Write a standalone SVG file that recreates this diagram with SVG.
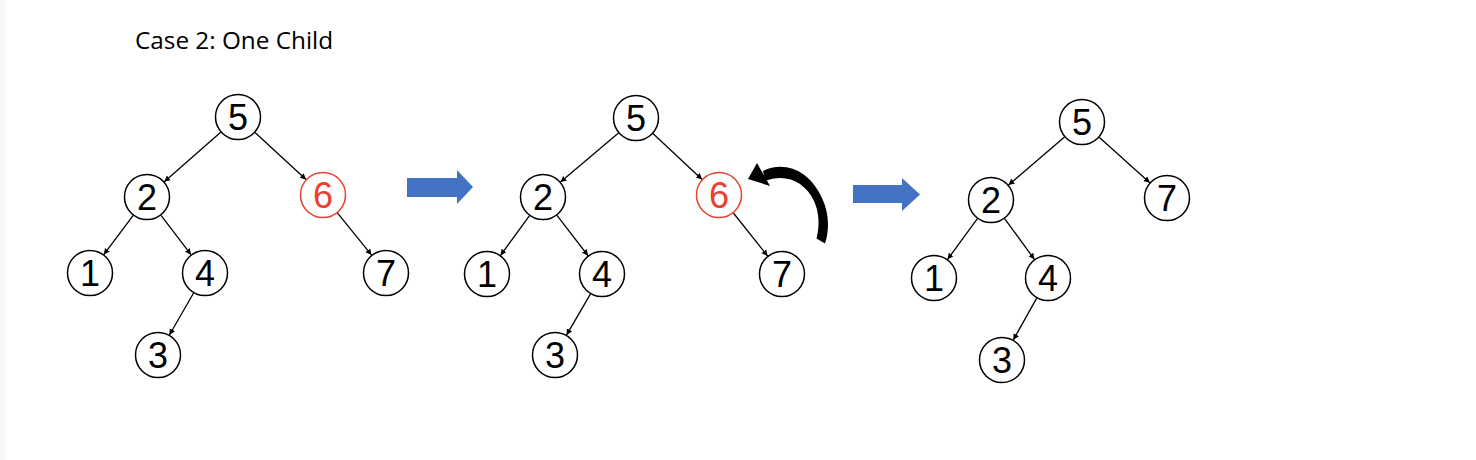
<svg xmlns="http://www.w3.org/2000/svg" width="1476" height="460" viewBox="0 0 1476 460">
<defs>
<marker id="ah" markerUnits="userSpaceOnUse" markerWidth="7" markerHeight="7" refX="6" refY="3" orient="auto">
<path d="M0,0 L6,3 L0,6 Z" fill="#000"/>
</marker>
<style>
.nd circle{fill:#fff;stroke:#000;stroke-width:1.5}
.nd text{font-family:"Liberation Sans",Arial,sans-serif;font-size:36px;fill:#000;text-anchor:middle}
.nd.red circle{stroke:#E8412F}
.nd.red text{fill:#E8412F}
.edges line{stroke:#000;stroke-width:1.3;marker-end:url(#ah)}
.big{fill:#4472C4}
</style>
</defs>
<rect x="0" y="0" width="1476" height="460" fill="#fff"/>
<rect x="0" y="0" width="6" height="460" fill="#f7f7f7"/>
<text x="135" y="49" font-family="Open Sans, Liberation Sans, sans-serif" font-size="24.3" fill="#000">Case 2: One Child</text>

<g class="edges" id="connectors">
<line x1="220.7" y1="132.2" x2="164.3" y2="181.8"/>
<line x1="255.0" y1="132.5" x2="306.0" y2="179.5"/>
<line x1="133.2" y1="215.4" x2="103.8" y2="254.6"/>
<line x1="161.0" y1="215.3" x2="191.0" y2="254.7"/>
<line x1="193.6" y1="293.0" x2="169.4" y2="335.0"/>
<line x1="337.4" y1="212.9" x2="371.6" y2="255.1"/>

<line x1="618.5" y1="132.9" x2="560.5" y2="182.1"/>
<line x1="652.9" y1="133.6" x2="702.1" y2="179.4"/>
<line x1="529.5" y1="215.6" x2="500.5" y2="255.4"/>
<line x1="557.0" y1="215.3" x2="588.0" y2="255.7"/>
<line x1="590.5" y1="293.9" x2="566.5" y2="335.1"/>
<line x1="733.4" y1="213.0" x2="767.6" y2="256.0"/>

<line x1="1064.5" y1="137.0" x2="1008.5" y2="185.0"/>
<line x1="1099.2" y1="137.3" x2="1149.8" y2="182.7"/>
<line x1="977.4" y1="218.6" x2="947.6" y2="259.4"/>
<line x1="1004.6" y1="218.6" x2="1034.4" y2="259.4"/>
<line x1="1036.7" y1="298.1" x2="1013.3" y2="340.0"/>
</g>

<g id="t1">
<g class="nd" id="t1-n5"><circle cx="238" cy="117" r="22.5"/><text x="238" y="130">5</text></g>
<g class="nd" id="t1-n2"><circle cx="147" cy="197" r="22.5"/><text x="147" y="210">2</text></g>
<g class="nd red" id="t1-n6"><circle cx="323" cy="195" r="22.5"/><text x="323" y="208">6</text></g>
<g class="nd" id="t1-n1"><circle cx="90" cy="273" r="22.5"/><text x="90" y="286">1</text></g>
<g class="nd" id="t1-n4"><circle cx="205" cy="273" r="22.5"/><text x="205" y="286">4</text></g>
<g class="nd" id="t1-n7"><circle cx="386" cy="273" r="22.5"/><text x="386" y="286">7</text></g>
<g class="nd" id="t1-n3"><circle cx="158" cy="355" r="22.5"/><text x="158" y="368">3</text></g>
</g>

<g id="t2">
<g class="nd" id="t2-n5"><circle cx="636" cy="118" r="22.5"/><text x="636" y="131">5</text></g>
<g class="nd" id="t2-n2"><circle cx="543" cy="197" r="22.5"/><text x="543" y="210">2</text></g>
<g class="nd red" id="t2-n6"><circle cx="719" cy="195" r="22.5"/><text x="719" y="208">6</text></g>
<g class="nd" id="t2-n1"><circle cx="487" cy="274" r="22.5"/><text x="487" y="287">1</text></g>
<g class="nd" id="t2-n4"><circle cx="602" cy="274" r="22.5"/><text x="602" y="287">4</text></g>
<g class="nd" id="t2-n7"><circle cx="782" cy="274" r="22.5"/><text x="782" y="287">7</text></g>
<g class="nd" id="t2-n3"><circle cx="555" cy="355" r="22.5"/><text x="555" y="368">3</text></g>
</g>

<g id="t3">
<g class="nd" id="t3-n5"><circle cx="1082" cy="122" r="22.5"/><text x="1082" y="135">5</text></g>
<g class="nd" id="t3-n2"><circle cx="991" cy="200" r="22.5"/><text x="991" y="213">2</text></g>
<g class="nd" id="t3-n7"><circle cx="1167" cy="198" r="22.5"/><text x="1167" y="211">7</text></g>
<g class="nd" id="t3-n1"><circle cx="934" cy="278" r="22.5"/><text x="934" y="291">1</text></g>
<g class="nd" id="t3-n4"><circle cx="1048" cy="278" r="22.5"/><text x="1048" y="291">4</text></g>
<g class="nd" id="t3-n3"><circle cx="1002" cy="360" r="22.5"/><text x="1002" y="373">3</text></g>
</g>

<g id="arrow1"><path class="big" d="M407,178 H457 V170 L473,187 L457,204 V197 H407 Z"/></g>
<g id="arrow2"><path class="big" d="M853,185 H902 V178 L920,194.5 L902,211 V203 H853 Z"/></g>

<g id="curved-arrow">
<path d="M763,171 C785,160 810,171 822,198 C830,215 829,232 825,243.5 L816.5,238.5 C820,225 819,212 814,201 C805,182 786,173 765,181 Z" fill="#000"/>
<path d="M748,179 L757,163 L770,186 Z" fill="#000"/>
</g>
</svg>
